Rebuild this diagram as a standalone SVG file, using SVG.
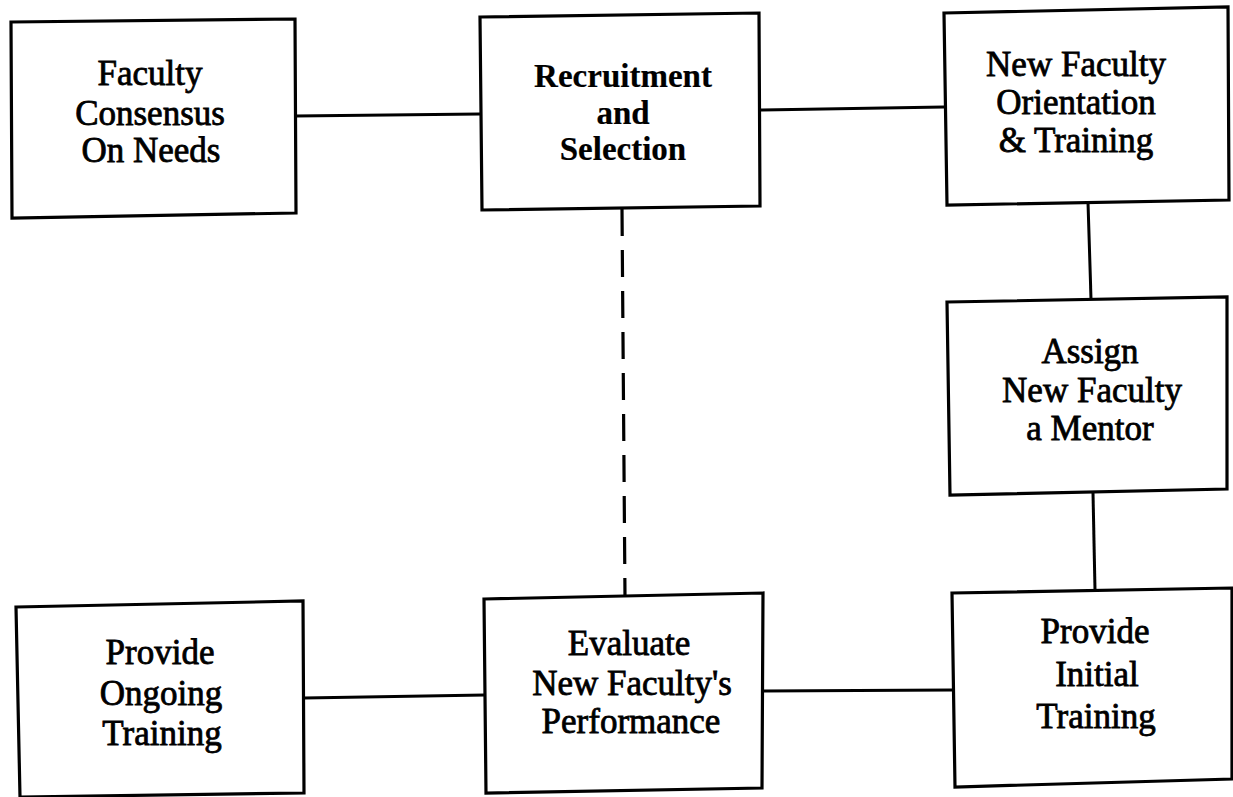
<svg xmlns="http://www.w3.org/2000/svg" width="1233" height="797" viewBox="0 0 1233 797">
<style>
.box{fill:#fff;stroke:#000;stroke-width:3.2;stroke-linejoin:miter}
.ln{fill:none;stroke:#000;stroke-width:3}
.dash{fill:none;stroke:#000;stroke-width:3.2;stroke-dasharray:27 14}
text{font-family:"Liberation Serif","Times New Roman",serif;font-size:35px;fill:#000;stroke:#000;stroke-width:0.8;text-anchor:middle}
text.b{font-size:33px;font-weight:bold;stroke-width:0.2}
</style>
<rect width="1233" height="797" fill="#fff"/>
<g id="connectors">
<line class="ln" x1="295" y1="116" x2="480" y2="114"/>
<line class="ln" x1="759" y1="110" x2="944" y2="107"/>
<line class="ln" x1="1088" y1="202" x2="1091" y2="299"/>
<line class="ln" x1="1093" y1="493" x2="1095" y2="590"/>
<line class="ln" x1="952" y1="690" x2="763" y2="691"/>
<line class="ln" x1="485" y1="695" x2="304" y2="698"/>
<line class="dash" x1="622" y1="209" x2="625" y2="597"/>
</g>
<g id="n1">
<polygon class="box" points="11,22 295,19 296,213 12,218"/>
<text x="150" y="85">Faculty</text>
<text x="150" y="125">Consensus</text>
<text x="151" y="162">On Needs</text>
</g>
<g id="n2">
<polygon class="box" points="480,17 759,13 760,206 482,210"/>
<text class="b" x="623" y="87">Recruitment</text>
<text class="b" x="623" y="124">and</text>
<text class="b" x="623" y="160">Selection</text>
</g>
<g id="n3">
<polygon class="box" points="944,13 1228,7 1229,200 947,205"/>
<text x="1076" y="76">New Faculty</text>
<text x="1076" y="114">Orientation</text>
<text x="1076" y="152">&amp; Training</text>
</g>
<g id="n4">
<polygon class="box" points="947,302 1227,297 1227,489 950,495"/>
<text x="1090" y="363">Assign</text>
<text x="1092" y="402">New Faculty</text>
<text x="1090" y="440">a Mentor</text>
</g>
<g id="n5">
<polygon class="box" points="16,607 303,601 304,793 20,797"/>
<text x="160" y="664">Provide</text>
<text x="161" y="705">Ongoing</text>
<text x="162" y="745">Training</text>
</g>
<g id="n6">
<polygon class="box" points="484,599 763,593 762,788 486,793"/>
<text x="629" y="655">Evaluate</text>
<text x="632" y="695">New Faculty's</text>
<text x="631" y="733">Performance</text>
</g>
<g id="n7">
<polygon class="box" points="952,593 1232,588 1232,779 955,787"/>
<text x="1095" y="643">Provide</text>
<text x="1097" y="686">Initial</text>
<text x="1096" y="728">Training</text>
</g>
</svg>
